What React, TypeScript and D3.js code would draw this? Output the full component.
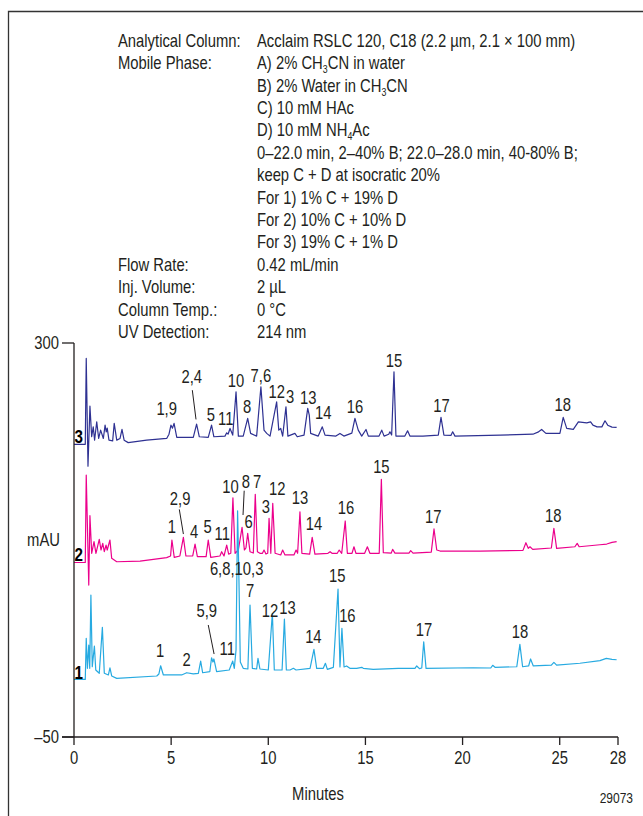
import React from 'react';
import * as d3 from 'd3';

// retention time (min) / response (mAU, relative to each trace's own baseline)
const timeTicks = [0, 5, 10, 15, 20, 25, 28];
const mauTicks = [300, -50];

const trace1: [number, number][] = [
  [0, 1.2], [0.58, 1.2], [0.63, 37.7], [0.69, 11], [0.76, 31.7], [0.81, 11], [0.87, 76.1], [0.94, 12.4],
  [1.05, 30.8], [1.12, 9.5], [1.3, 6.6], [1.46, 47.4], [1.56, 6.6], [1.77, 5.1], [1.85, 11.5], [1.94, 4.2],
  [2.2, 2.1], [4.26, 4.2], [4.37, 6], [4.46, 13.3], [4.6, 5.1], [5.54, 5.1], [5.8, 7.1], [6.14, 6],
  [6.4, 6.6], [6.52, 17.5], [6.62, 7.1], [6.99, 8], [7.08, 20.4], [7.15, 16.6], [7.2, 19.3], [7.34, 8],
  [7.99, 9.5], [8.17, 17.5], [8.25, 11], [8.34, 27.3], [8.42, 151], [8.49, 89.4], [8.56, 16.6], [8.71, 11],
  [8.95, 10.4], [9.06, 67.2], [9.18, 11], [9.4, 10.4], [9.47, 19.9], [9.57, 10.4], [10.0, 9.5], [10.21, 59.9],
  [10.31, 9.5], [10.71, 9.5], [10.83, 54.8], [10.93, 9.5], [11.12, 9.5], [11.29, 11], [11.43, 9.5], [12.15, 11],
  [12.35, 27.9], [12.49, 11], [12.83, 11], [12.94, 15.5], [13.04, 10.1], [13.35, 11.9], [13.59, 81.4], [13.69, 12.2],
  [13.79, 46.5], [13.9, 12.2], [14.03, 13.1], [14.2, 11], [14.55, 11], [14.81, 11.9], [14.89, 11], [15.4, 10.1],
  [16.69, 11], [17.55, 11], [17.64, 13.1], [17.78, 10.7], [17.9, 11.3], [18.0, 34.6], [18.12, 11], [20.55, 11.5],
  [21.45, 11.3], [21.55, 13.7], [21.67, 11.9], [22.79, 12.4], [22.95, 32.3], [23.09, 12.4], [23.4, 13.1], [23.5, 19.3],
  [23.64, 13.1], [24.57, 13.9], [24.7, 16.3], [24.84, 13.9], [26.04, 15.5], [27.07, 17.8], [27.4, 19.9], [27.69, 19],
  [27.93, 18.6],
];

const trace2: [number, number][] = [
  [0, 0], [0.58, 0], [0.63, 77.7], [0.76, -20], [0.82, 41.6], [0.91, 8.2], [1.03, 18.5], [1.13, 8.2],
  [1.3, 20.6], [1.39, 11.1], [1.48, 17], [1.56, 9.6], [1.65, 15.5], [1.71, 11.1], [1.85, 20], [1.94, 3.7],
  [2.2, 0.7], [3.4, 1.3], [4.77, 4.3], [4.97, 5.8], [5.04, 20], [5.16, 4.6], [5.45, 5.8], [5.63, 22.4],
  [5.76, 5.8], [6.11, 5.8], [6.23, 16.4], [6.35, 5.2], [6.8, 5.2], [6.91, 20], [7.04, 4.6], [7.51, 5.8],
  [7.6, 9.6], [7.72, 5.8], [7.86, 15.5], [7.96, 7.5], [8.07, 8.2], [8.18, 57.5], [8.29, 8.2], [8.46, 11.1],
  [8.65, 31.3], [8.77, 11.1], [8.85, 12.9], [8.94, 25.9], [9.06, 9.6], [9.23, 8.4], [9.33, 60.6], [9.44, 9.6],
  [9.57, 8.2], [9.7, 8.2], [9.78, 11.1], [9.88, 7.5], [9.97, 8.2], [10.04, 39.3], [10.13, 8.2], [10.23, 52.6],
  [10.35, 8.2], [10.64, 6.7], [10.74, 11.1], [10.86, 6.7], [11.32, 6.7], [11.43, 11.1], [11.51, 8.2], [11.63, 45.1],
  [11.73, 8.2], [12.13, 7.5], [12.26, 22.4], [12.4, 7.5], [13.07, 8.2], [13.18, 9.6], [13.28, 8.2], [13.55, 8.2],
  [13.65, 11.1], [13.78, 8.2], [13.96, 36.9], [14.07, 8.2], [14.31, 8.2], [14.41, 14], [14.51, 8.2], [14.96, 8.2],
  [15.1, 14], [15.23, 8.2], [15.71, 8.2], [15.82, 73.9], [15.92, 8.7], [16.33, 8.4], [16.4, 11.7], [16.52, 8.4],
  [17.24, 8.4], [17.33, 10.5], [17.45, 8.4], [18.39, 9.3], [18.53, 29.8], [18.67, 11.1], [18.84, 10.2], [20.9, 10.2],
  [23.11, 10.8], [23.26, 17.6], [23.38, 12.6], [23.47, 14], [23.61, 11.7], [24.57, 12.9], [24.7, 30.4], [24.84, 12.6],
  [25.78, 14], [25.9, 17], [26.0, 14], [27.07, 15.8], [27.42, 16.4], [27.69, 17.9], [27.93, 18.5],
];

const trace3: [number, number][] = [
  [0, 0], [0.58, 0], [0.63, 76.3], [0.72, -19.4], [0.82, 33.9], [0.91, 6.7], [0.99, 15.5], [1.06, 3.7],
  [1.17, 20], [1.27, 5.2], [1.37, 12.6], [1.51, 5.2], [1.6, 17], [1.66, 11], [1.71, 14.4], [1.8, 3.7],
  [1.99, 3.1], [2.07, 18.6], [2.2, 3.7], [2.37, 5.2], [2.47, 13.2], [2.58, 3.7], [2.79, 1.5], [3.74, 3.7],
  [4.77, 5.2], [4.89, 9], [4.99, 17], [5.07, 14.4], [5.15, 18.6], [5.29, 6.1], [6.14, 6.1], [6.31, 17.9],
  [6.45, 6.7], [6.91, 6.1], [7.08, 17], [7.2, 6.7], [7.77, 7.3], [7.86, 10.2], [7.93, 9], [8.03, 14.1],
  [8.17, 8.2], [8.34, 46.6], [8.46, 7.3], [8.71, 7.3], [8.94, 23], [9.09, 9.7], [9.4, 7.3], [9.62, 51.1],
  [9.78, 12.6], [9.92, 9.7], [10.09, 7.3], [10.43, 37.7], [10.54, 12.6], [10.64, 14.1], [10.74, 7.3], [10.91, 33.3],
  [11.01, 7.3], [11.37, 9.7], [11.49, 6.7], [11.84, 8.2], [12.03, 31.9], [12.11, 25.9], [12.18, 9.7], [12.57, 7.3],
  [12.78, 15.5], [12.92, 8.2], [13.48, 7.3], [13.69, 9.7], [13.89, 7.3], [14.3, 9.9], [14.46, 23], [14.63, 12.6],
  [14.81, 7.3], [15.03, 13.2], [15.15, 7.3], [15.7, 7.3], [15.84, 12.6], [15.96, 7.3], [16.2, 9], [16.26, 11.1],
  [16.35, 8.2], [16.47, 64.4], [16.57, 7.3], [17.03, 7.3], [17.17, 12], [17.29, 7.3], [17.96, 7.3], [18.75, 8.2],
  [18.89, 23.9], [19.04, 8.2], [19.4, 7.9], [19.49, 11.1], [19.61, 7.3], [21.93, 8.2], [23.62, 9], [23.88, 10.8],
  [24.07, 13.2], [24.29, 9.7], [25.01, 9.7], [25.18, 23.9], [25.36, 14.1], [25.7, 13.2], [25.96, 20], [26.39, 19.1],
  [26.59, 20], [26.71, 17], [26.92, 15.5], [27.17, 15.5], [27.33, 20.9], [27.47, 17], [27.69, 15.3], [27.93, 15],
];

// peak labels: [text, time, mAU above trace baseline]
const labels1: [string, number, number][] = [
  ['1', 4.43, 20.8], ['2', 5.8, 13.1], ['5,9', 6.83, 56.3], ['11', 7.89, 22.8], ['6,8,10,3', 8.37, 93.9],
  ['7', 9.06, 74.1], ['12', 10.09, 56.3], ['13', 10.99, 59.2], ['14', 12.32, 33.2], ['15', 13.55, 87.9],
  ['16', 14.07, 52.4], ['17', 18.01, 39.7], ['18', 22.95, 37.7],
];
const labels2: [string, number, number][] = [
  ['1', 5.04, 25.9], ['2,9', 5.46, 51.1], ['4', 6.18, 21.5], ['5', 6.88, 25.9], ['11', 7.63, 20],
  ['10', 8.06, 61.5], ['8', 8.84, 65.9], ['7', 9.43, 65.9], ['6', 8.99, 30.4], ['3', 9.88, 43.7],
  ['12', 10.46, 59.9], ['13', 11.63, 52], ['14', 12.35, 28.9], ['16', 14.0, 42.8], ['15', 15.82, 79.8],
  ['17', 18.49, 34.8], ['18', 24.67, 36.2],
];
const labels3: [string, number, number][] = [
  ['1,9', 4.77, 25.9], ['2,4', 6.06, 54.4], ['5', 7.04, 20.9], ['11', 7.81, 17], ['10', 8.34, 50.5],
  ['8', 8.91, 27.4], ['7,6', 9.62, 55.5], ['12', 10.43, 40.8], ['3', 11.12, 36.9], ['13', 12.06, 35.7],
  ['14', 12.83, 22.1], ['16', 14.46, 27.4], ['15', 16.47, 68.8], ['17', 18.92, 28.9], ['18', 25.15, 29.8],
];

// leader lines: [t1, v1, t2, v2]
const leaders1: [number, number, number, number][] = [[6.91, 49.5, 7.21, 23.7]];
const leaders2: [number, number, number, number][] = [[5.42, 47.2, 5.63, 25.3], [8.76, 63.8, 8.7, 42.2]];
const leaders3: [number, number, number, number][] = [[6.09, 48.1, 6.28, 22.1]];

const conditionKeys = [
  'Analytical Column:', 'Mobile Phase:', '', '', '', '', '', '', '', '',
  'Flow Rate:', 'Inj. Volume:', 'Column Temp.:', 'UV Detection:',
];
const conditionValues = [
  'Acclaim RSLC 120, C18 (2.2 µm, 2.1 × 100 mm)',
  'A) 2% CH_3CN in water',
  'B) 2% Water in CH_3CN',
  'C) 10 mM HAc',
  'D) 10 mM NH_4Ac',
  '0–22.0 min, 2–40% B; 22.0–28.0 min, 40-80% B;',
  'keep C + D at isocratic 20%',
  'For 1) 1% C + 19% D',
  'For 2) 10% C + 10% D',
  'For 3) 19% C + 1% D',
  '0.42 mL/min',
  '2 µL',
  '0 °C',
  '214 nm',
];

const traces = [
  { id: '3', color: '#2e3192', offset: 210, points: trace3, labels: labels3, leaders: leaders3 },
  { id: '2', color: '#ec008c', offset: 105, points: trace2, labels: labels2, leaders: leaders2 },
  { id: '1', color: '#27aae1', offset: 0, points: trace1, labels: labels1, leaders: leaders1 },
];

const font = "'Liberation Sans', Arial, sans-serif";
const ink = '#231f20';
const narrow = 0.8; // squeeze Liberation Sans towards the condensed face of the original

// condensed text: drawn at (x, y), squeezed horizontally
const T = ({ x, y, anchor = 'start', size = 18.5, weight = 'normal', fill = ink, children }: any) => (
  <text transform={`translate(${x},${y}) scale(${narrow},1)`} textAnchor={anchor}
    fontSize={size} fontWeight={weight} fill={fill}>{children}</text>
);

const withSubs = (s: string) =>
  s.split(/_(\d)/).map((part, i) =>
    i % 2 === 1
      ? <tspan key={i} fontSize={11} dy={4}>{part}</tspan>
      : <tspan key={i} dy={i > 0 ? -4 : 0}>{part}</tspan>
  );

export default function App() {
  const width = 643, height = 816;
  const x = d3.scaleLinear().domain([0, 28]).range([74, 618]);
  const y = d3.scaleLinear().domain([-50, 300]).range([737, 343]);

  return (
    <div style={{ position: 'absolute', left: 0, top: 0 }}>
      <svg width={width} height={height} style={{ display: 'block', background: '#fff' }} fontFamily={font}>
        {/* frame */}
        <path d={`M8.5,${height}V11.5H${width}`} fill="none" stroke="#333" strokeWidth={1.3} />

        {/* conditions */}
        {conditionKeys.map((k, i) => (
          <T key={'k' + i} x={118} y={46.7 + i * 22.4}>{k}</T>
        ))}
        {conditionValues.map((v, i) => (
          <T key={'v' + i} x={257} y={46.7 + i * 22.4}>{withSubs(v)}</T>
        ))}

        {/* traces */}
        {traces.map(tr => {
          const line = d3.line<[number, number]>()
            .x(d => x(d[0]))
            .y(d => y(d[1] + tr.offset));
          return (
            <g key={tr.id}>
              <path d={line(tr.points) || ''} fill="none" stroke={tr.color} strokeWidth={1.2} strokeLinejoin="round" />
              <T x={74.5} y={y(tr.offset) - 1.5} size={19} weight="bold" fill="#000">{tr.id}</T>
              {tr.leaders.map((l, i) => (
                <line key={i} x1={x(l[0])} y1={y(l[1] + tr.offset)} x2={x(l[2])} y2={y(l[3] + tr.offset)}
                  stroke={ink} strokeWidth={1} />
              ))}
              {tr.labels.map((lb, i) => (
                <T key={i} x={x(lb[1])} y={y(lb[2] + tr.offset)} anchor="middle">{lb[0]}</T>
              ))}
            </g>
          );
        })}

        {/* axes */}
        <g stroke={ink} strokeWidth={1.3} fill="none">
          <line x1={x(0)} x2={x(0)} y1={y(300)} y2={y(-50)} />
          <line x1={62} x2={x(28)} y1={y(-50)} y2={y(-50)} />
          {mauTicks.map(t => (
            <line key={t} x1={62} x2={x(0)} y1={y(t)} y2={y(t)} />
          ))}
          {timeTicks.map(t => (
            <line key={t} x1={x(t)} x2={x(t)} y1={y(-50)} y2={y(-50) + 8} />
          ))}
        </g>
        {mauTicks.map(t => (
          <T key={t} x={59} y={y(t) + 6} anchor="end">{t < 0 ? '–' + Math.abs(t) : t}</T>
        ))}
        <T x={60} y={546} anchor="end">mAU</T>
        {timeTicks.map(t => (
          <T key={t} x={x(t)} y={764} anchor="middle">{t}</T>
        ))}
        <T x={318} y={800} anchor="middle">Minutes</T>
        <T x={633} y={803} anchor="end" size={15}>29073</T>
      </svg>
    </div>
  );
}
